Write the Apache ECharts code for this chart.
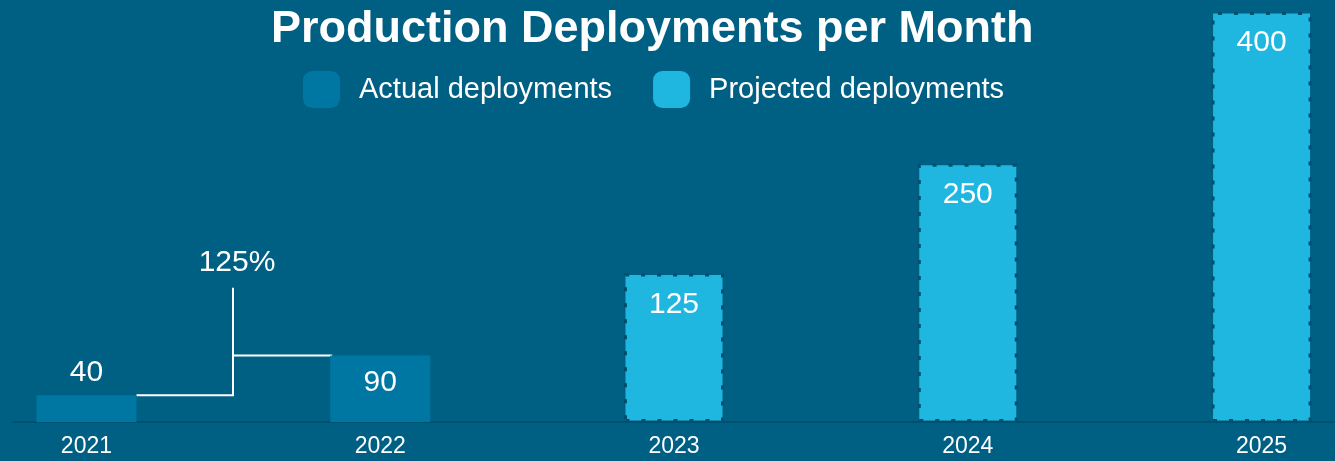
<!DOCTYPE html>
<html>
<head>
<meta charset="utf-8">
<script src="https://cdn.jsdelivr.net/npm/echarts@6/dist/echarts.min.js"></script>
<style>
  html, body { margin: 0; padding: 0; background: #006084; }
  #chart { width: 1335px; height: 461px; }
</style>
</head>
<body>
<div id="chart"></div>
<script>
// ---- data ----
const years = ['2021', '2022', '2023', '2024', '2025'];
const seriesNames = ['Actual deployments', 'Projected deployments'];
// bar heights
const actualHeights = [26, 65];
const projectedHeights = [145, 252, 400];
// value labels printed on the bars
const valueLabels = ['40', '90', '125', '250', '400'];
// growth bracket between 2021 and 2022
const growthLabel = '125%';
const bracketTop = 131;

// ---- chart ----
const BAR_W = 100;
const chart = echarts.init(document.getElementById('chart'), null, { renderer: 'canvas' });
const FONT = 'Liberation Sans, Arial, sans-serif';

const actualData = actualHeights.map((h, i) => ({
  value: [i, h],
  label: i === 0 ? { position: 'top', distance: 8 } : { position: 'insideTop', distance: 12 }
}));
const projectedData = projectedHeights.map((h, i) => ({
  value: [actualHeights.length + i, h]
}));

const option = {
  backgroundColor: '#006084',
  animation: false,
  title: {
    text: 'Production Deployments per Month',
    left: 268,
    top: 4,
    padding: 3,
    textStyle: { color: '#ffffff', fontSize: 45, fontWeight: 'bold', fontFamily: FONT }
  },
  legend: {
    data: seriesNames,
    left: 298,
    top: 66,
    itemWidth: 37,
    itemHeight: 37,
    itemGap: 41,
    icon: 'roundRect',
    itemStyle: { borderWidth: 0 },
    textStyle: { color: '#ffffff', fontSize: 29, fontFamily: FONT, padding: [4, 0, 0, 14] }
  },
  grid: { left: 13, width: 1324, top: 12, bottom: 39 },
  xAxis: {
    type: 'value',
    min: -0.25,
    max: 4.25,
    splitLine: { show: false },
    axisTick: { show: false },
    axisLine: { show: true, onZero: false, lineStyle: { color: '#00506f', width: 2 } },
    axisLabel: {
      customValues: years.map((_, i) => i),
      formatter: v => years[Math.round(v)],
      color: '#ffffff',
      fontSize: 23,
      fontFamily: FONT,
      margin: 13
    }
  },
  yAxis: { type: 'value', min: 0, max: 400, show: false, splitLine: { show: false } },
  series: [
    {
      name: seriesNames[0],
      type: 'bar',
      barWidth: BAR_W,
      barGap: '-100%',
      itemStyle: { color: '#0077a2' },
      label: {
        show: true,
        color: '#ffffff',
        fontSize: 30,
        fontFamily: FONT,
        formatter: p => valueLabels[p.value[0]]
      },
      data: actualData
    },
    {
      name: seriesNames[1],
      type: 'bar',
      barWidth: BAR_W,
      barGap: '-100%',
      itemStyle: {
        color: '#1fb6e0',
        borderColor: '#004f6e',
        borderWidth: 3,
        borderType: [4, 12]
      },
      label: {
        show: true,
        position: 'insideTop',
        distance: 16,
        color: '#ffffff',
        fontSize: 30,
        fontFamily: FONT,
        formatter: p => valueLabels[p.value[0]]
      },
      data: projectedData
    },
    {
      name: 'growth',
      type: 'custom',
      clip: false,
      silent: true,
      encode: { x: [0, 2], y: [1, 3, 4] },
      data: [[0, actualHeights[0], 1, actualHeights[1], bracketTop]],
      renderItem: (params, api) => {
        const a = api.coord([api.value(0), api.value(1)]);
        const b = api.coord([api.value(2), api.value(3)]);
        const t = api.coord([(api.value(0) + api.value(2)) / 2, api.value(4)]);
        const half = BAR_W / 2;
        const xm = Math.round((a[0] + b[0]) / 2);
        const ls = { stroke: '#ffffff', lineWidth: 2, fill: null };
        return {
          type: 'group',
          children: [
            { type: 'polyline', shape: { points: [[a[0] + half, a[1]], [xm, a[1]], [xm, t[1]]] }, style: ls },
            { type: 'line', shape: { x1: xm, y1: b[1], x2: b[0] - half + 2, y2: b[1] }, style: ls },
            { type: 'text', style: { text: growthLabel, x: xm + 4, y: t[1] - 10, align: 'center', verticalAlign: 'bottom', fill: '#ffffff', fontSize: 30, fontFamily: FONT } }
          ]
        };
      }
    }
  ]
};
chart.setOption(option);
</script>
</body>
</html>
